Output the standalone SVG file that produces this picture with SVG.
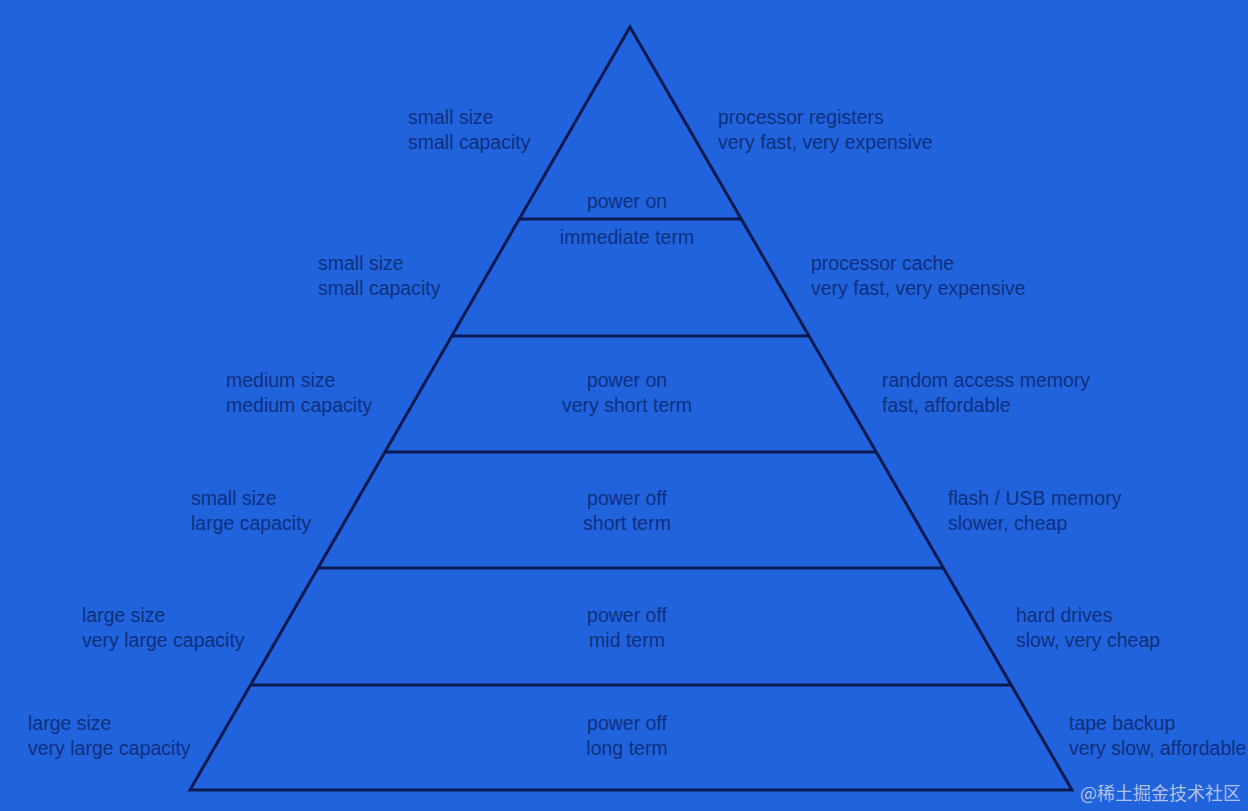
<svg xmlns="http://www.w3.org/2000/svg" width="1248" height="811" viewBox="0 0 1248 811">
<style>
text{font-family:"Liberation Sans",Arial,sans-serif;font-size:19.5px;fill:#10307f}
.c{text-anchor:middle}
.ln{stroke:#0a1a4e;stroke-width:3;fill:none;stroke-linejoin:miter}
.wm{font-family:"Noto Sans CJK SC",sans-serif;font-size:18px;fill:#d8dde8;fill-opacity:0.8}
</style>
<rect width="1248" height="811" fill="#2163dd"/>
<g id="connectors">
<polygon class="ln" points="630,27 1072,790 190,790"/>
<line class="ln" x1="519" y1="219" x2="741" y2="219"/>
<line class="ln" x1="452" y1="336" x2="809" y2="336"/>
<line class="ln" x1="385" y1="452" x2="876" y2="452"/>
<line class="ln" x1="318" y1="568" x2="943" y2="568"/>
<line class="ln" x1="250" y1="685" x2="1011" y2="685"/>
</g>
<g id="tier1">
<text x="408" y="124">small size</text><text x="408" y="149">small capacity</text>
<text x="718" y="124">processor registers</text><text x="718" y="149">very fast, very expensive</text>
<text class="c" x="627" y="208">power on</text><text class="c" x="627" y="244">immediate term</text>
</g>
<g id="tier2">
<text x="318" y="270">small size</text><text x="318" y="295">small capacity</text>
<text x="811" y="270">processor cache</text><text x="811" y="295">very fast, very expensive</text>
</g>
<g id="tier3">
<text x="226" y="387">medium size</text><text x="226" y="412">medium capacity</text>
<text class="c" x="627" y="387">power on</text><text class="c" x="627" y="412">very short term</text>
<text x="882" y="387">random access memory</text><text x="882" y="412">fast, affordable</text>
</g>
<g id="tier4">
<text x="191" y="505">small size</text><text x="191" y="530">large capacity</text>
<text class="c" x="627" y="505">power off</text><text class="c" x="627" y="530">short term</text>
<text x="948" y="505">flash / USB memory</text><text x="948" y="530">slower, cheap</text>
</g>
<g id="tier5">
<text x="82" y="622">large size</text><text x="82" y="647">very large capacity</text>
<text class="c" x="627" y="622">power off</text><text class="c" x="627" y="647">mid term</text>
<text x="1016" y="622">hard drives</text><text x="1016" y="647">slow, very cheap</text>
</g>
<g id="tier6">
<text x="28" y="730">large size</text><text x="28" y="755">very large capacity</text>
<text class="c" x="627" y="730">power off</text><text class="c" x="627" y="755">long term</text>
<text x="1069" y="730">tape backup</text><text x="1069" y="755">very slow, affordable</text>
</g>
<g id="watermark">
<text class="wm" x="1080" y="800">@稀土掘金技术社区</text>
</g>
</svg>
